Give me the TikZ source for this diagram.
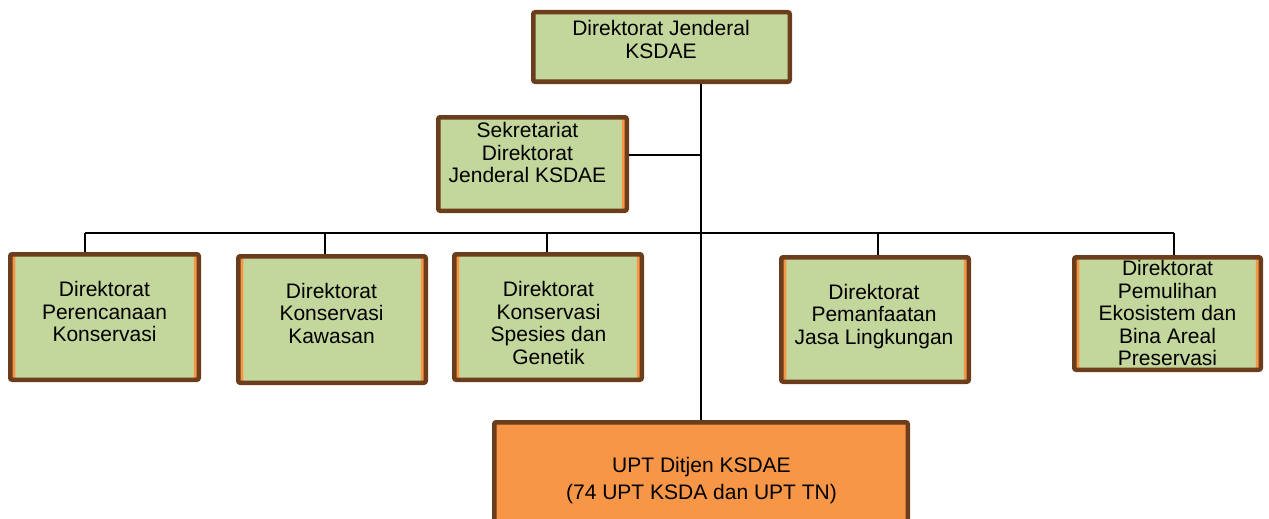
\documentclass[tikz,border=0pt]{standalone}
\usepackage{fontspec}
\setmainfont{Liberation Sans}
\usepackage{xcolor}
\usepackage{tikz}
\def\lebar{1269}
\def\tinggi{519}
\definecolor{hijau}{HTML}{C3D69B}
\definecolor{coklat}{HTML}{6B3D1C}
\definecolor{oranye}{HTML}{F79646}

\tikzset{
  kotak/.style={draw=coklat, line width=4.5pt, fill=hijau, rounded corners=2pt, inner sep=0pt},
  pitakanan/.style={path picture={\fill[oranye] ([xshift=-5pt]path picture bounding box.north east) rectangle (path picture bounding box.south east);}},
  pitadua/.style={path picture={\fill[oranye] (path picture bounding box.north west) rectangle ([xshift=5pt]path picture bounding box.south west);
    \fill[oranye] ([xshift=-5pt]path picture bounding box.north east) rectangle (path picture bounding box.south east);}},
  teks/.style={align=center, inner sep=0pt, font=\fontsize{21}{22.5}\selectfont},
  garis/.style={draw=black, line width=2.3pt}
}

\begin{document}
\begin{tikzpicture}[x=1pt, y=-1pt]
\useasboundingbox (0,0) rectangle (\lebar,\tinggi);
%\draw[step=50, line width=0.2pt, black!30!white] (0,0) grid (\lebar,\tinggi);
    % kotak
    \node[kotak, minimum width=256.5pt, minimum height=69.5pt] (dirjen) at (661.5,47) {};
    \node[kotak, pitakanan, minimum width=188.5pt, minimum height=93.5pt] (sekr) at (532.5,164) {};
    \node[kotak, pitadua, minimum width=188.5pt, minimum height=125.5pt] (dpk) at (104.5,317) {};
    \node[kotak, pitadua, minimum width=187.5pt, minimum height=126.5pt] (dkk) at (332,319.5) {};
    \node[kotak, pitadua, minimum width=187.5pt, minimum height=125.5pt] (dks) at (548,317) {};
    \node[kotak, pitadua, minimum width=187.5pt, minimum height=124.5pt] (dpj) at (875,319.5) {};
    \node[kotak, pitadua, minimum width=186.5pt, minimum height=112.5pt] (dpb) at (1167.5,313.5) {};
    \node[kotak, fill=oranye, minimum width=413.5pt, minimum height=115.5pt] (upt) at (701,480) {};
    % teks
    \node[teks] (dirjen-t) at (661,39.25) {Direktorat Jenderal\\KSDAE};
    \node[teks] (sekr-t) at (527.5,152.75) {Sekretariat\\Direktorat\\Jenderal KSDAE};
    \node[teks] (dpk-t) at (104.5,311.75) {Direktorat\\Perencanaan\\Konservasi};
    \node[teks] (dkk-t) at (331.5,313.25) {Direktorat\\Konservasi\\Kawasan};
    \node[teks] (dks-t) at (548.5,322.75) {Direktorat\\Konservasi\\Spesies dan\\Genetik};
    \node[teks] (dpj-t) at (874,316.25) {Direktorat\\Pemanfaatan\\Jasa Lingkungan};
    \node[teks] (dpb-t) at (1167.5,313.25) {Direktorat\\Pemulihan\\Ekosistem dan\\Bina Areal\\Preservasi};
    \node[teks, font=\fontsize{21}{27}\selectfont] (upt-t) at (701.5,481) {UPT Ditjen KSDAE\\(74 UPT KSDA dan UPT TN)};
    % garis
    \coordinate (d1) at (85,233);
    \coordinate (d2) at (325,233);
    \coordinate (d3) at (547,233);
    \coordinate (d4) at (878,233);
    \coordinate (d5) at (1174,233);
    \coordinate (sekr-r) at ([yshift=9pt]sekr.east);
    \draw[garis] (dirjen.south -| upt.north) -- (upt.north);
    \draw[garis] (sekr-r) -- (sekr-r -| upt.north);
    \draw[garis] (d1) -- (d5);
    \foreach \n/\d in {dpk/d1, dkk/d2, dks/d3, dpj/d4, dpb/d5}
        \draw[garis] (\d) -- (\d |- \n.north);
\end{tikzpicture}
\end{document}
